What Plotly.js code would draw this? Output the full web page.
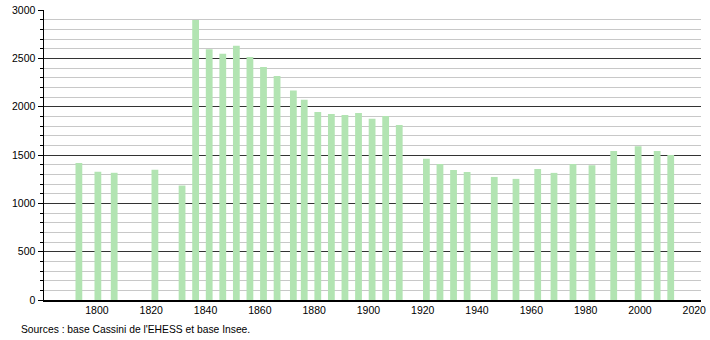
<!DOCTYPE html>
<html>
<head>
<meta charset="utf-8">
<script src="https://cdn.plot.ly/plotly-3.0.1.min.js"></script>
<style>html,body{margin:0;padding:0;background:#fff;}#chart{width:710px;height:340px;}</style>
</head>
<body>
<div id="chart"></div>
<script>
const years = [1793, 1800, 1806, 1821, 1831, 1836, 1841, 1846, 1851, 1856, 1861, 1866, 1872, 1876, 1881, 1886, 1891, 1896, 1901, 1906, 1911, 1921, 1926, 1931, 1936, 1946, 1954, 1962, 1968, 1975, 1982, 1990, 1999, 2006, 2011];
const population = [1418, 1326, 1316, 1347, 1184, 2897, 2594, 2547, 2629, 2515, 2410, 2317, 2166, 2072, 1946, 1924, 1914, 1935, 1876, 1904, 1810, 1460, 1407, 1346, 1325, 1273, 1253, 1356, 1315, 1407, 1394, 1542, 1591, 1541, 1500];
const xTicks = [1800, 1820, 1840, 1860, 1880, 1900, 1920, 1940, 1960, 1980, 2000, 2020];
const sourceText = "Sources : base Cassini de l'EHESS et base Insee.";

const font = "Liberation Sans, Arial, sans-serif";
Plotly.newPlot('chart', [{
  type: 'bar',
  x: years,
  y: population,
  width: 2.5,
  offset: -0.9,
  marker: {color: '#b2e4b2', line: {width: 0}},
  hoverinfo: 'x+y'
}], {
  width: 710, height: 340,
  margin: {l: 44, r: 9, t: 10, b: 40},
  paper_bgcolor: '#fff', plot_bgcolor: '#fff',
  showlegend: false,
  font: {family: font, size: 10.5, color: '#000'},
  xaxis: {
    range: [1780.5, 2022.5],
    tickvals: xTicks,
    ticktext: xTicks.map(String),
    ticks: '',
    showgrid: false,
    zeroline: false,
    showline: true, linecolor: '#000', linewidth: 1.5,
    tickfont: {family: font, size: 10.5, color: '#000'}
  },
  yaxis: {
    range: [0, 3000],
    dtick: 500, tick0: 0,
    ticks: 'outside', ticklen: 5, tickcolor: '#000', tickwidth: 1,
    showgrid: true, gridcolor: '#333', gridwidth: 1,
    zeroline: false,
    showline: true, linecolor: '#000', linewidth: 1.5,
    tickfont: {family: font, size: 10.5, color: '#000'},
    minor: {dtick: 100, ticks: 'outside', ticklen: 3, tickcolor: '#000', showgrid: true, gridcolor: '#c8c8c8', gridwidth: 1}
  },
  annotations: [{
    text: sourceText, xref: 'paper', yref: 'paper',
    x: -44/657 + 19/657, y: -29/290, xanchor: 'left', yanchor: 'middle',
    showarrow: false, font: {family: font, size: 10.3, color: '#000'}
  }]
}, {displayModeBar: false, staticPlot: true});
</script>
</body>
</html>
